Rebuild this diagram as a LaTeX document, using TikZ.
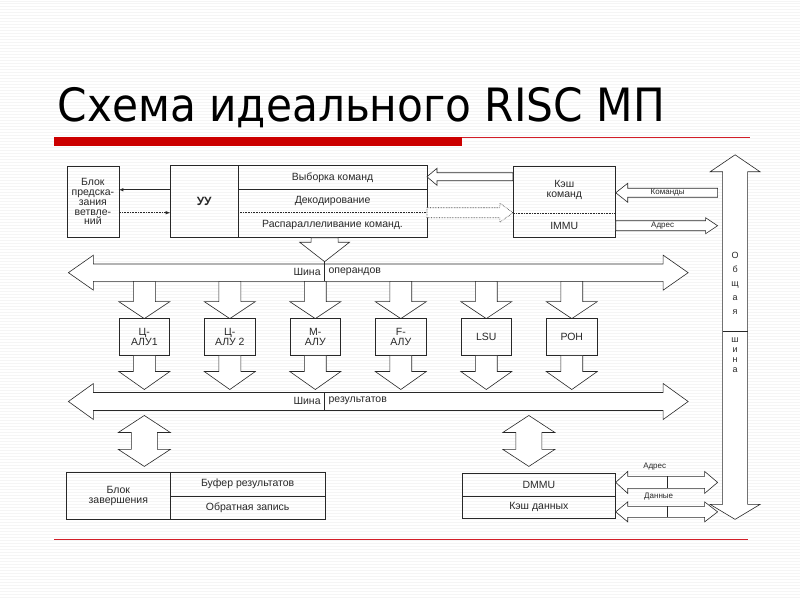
\documentclass[tikz,border=0pt]{standalone}
\usepackage{fontspec}
\setmainfont{Liberation Sans}
\newfontfamily\titlefont[FakeStretch=0.92]{DejaVu Sans}
\definecolor{slidered}{RGB}{204,0,0}
\definecolor{linered}{RGB}{210,30,40}
\definecolor{ink}{RGB}{40,40,40}
\newcommand\hollowh[7][]{\draw[fill=white,#1] (#2,#5-#6) -- (#3,#5-#6) -- (#3,#5-#7) -- (#4,#5) -- (#3,#5+#7) -- (#3,#5+#6) -- (#2,#5+#6) -- cycle;}
\newcommand\hollowv[7][]{\draw[fill=white,#1] (#5-#6,#2) -- (#5-#6,#3) -- (#5-#7,#3) -- (#5,#4) -- (#5+#7,#3) -- (#5+#6,#3) -- (#5+#6,#2) -- cycle;}
\newcommand\hollowhh[8][]{\draw[fill=white,#1] (#2,#6) -- (#3,#6-#8) -- (#3,#6-#7) -- (#4,#6-#7) -- (#4,#6-#8) -- (#5,#6) -- (#4,#6+#8) -- (#4,#6+#7) -- (#3,#6+#7) -- (#3,#6+#8) -- cycle;}
\newcommand\hollowvv[8][]{\draw[fill=white,#1] (#6,#2) -- (#6+#8,#3) -- (#6+#7,#3) -- (#6+#7,#4) -- (#6+#8,#4) -- (#6,#5) -- (#6-#8,#4) -- (#6-#7,#4) -- (#6-#7,#3) -- (#6-#8,#3) -- cycle;}

\begin{document}
\begin{tikzpicture}[x=1pt,y=-1pt,>=latex,line width=0.6pt,color=ink,
    lbl/.style={font=\fontsize{10.5}{9.7}\selectfont,align=center,inner sep=0pt,outer sep=0pt},
    tiny/.style={font=\fontsize{8}{8}\selectfont,inner sep=0pt}]
            \fill[white] (0,0) rectangle (800,600);
            \foreach \s in {1,4,...,598} \draw[black!4,line width=1pt] (0,\s) -- (800,\s);
            \useasboundingbox (0,0) rectangle (800,600);
            \node[anchor=base west,inner sep=0pt,text=black,font=\titlefont\fontsize{46}{50}\selectfont] (title) at (57,122) {Схема идеального RISC МП};
            \fill[slidered] (54,137) rectangle (462,146);
            \fill[linered] (462,136.8) rectangle (750,138.2);
            \fill[linered] (54,539.3) rectangle (748,540.7);

            \node[lbl,draw,minimum width=52pt,minimum height=71pt] (bpv) at (92.5,202) {Блок\\предска-\\зания\\ветвле-\\ний};
            \node[lbl,minimum width=68pt,minimum height=72pt,font=\bfseries\fontsize{12}{12}\selectfont] (uu) at (204,202) {УУ};
            \node[lbl,minimum width=189pt,minimum height=24pt] (fetch) at (332.5,178) {Выборка команд};
            \node[lbl,minimum width=189pt,minimum height=23pt] (decode) at (332.5,201.5) {Декодирование};
            \node[lbl,minimum width=189pt,minimum height=25pt] (issue) at (332.5,225.5) {Распараллеливание команд.};
            \draw (uu.north west) rectangle (issue.south east);
            \draw (uu.north east) -- (uu.south east);
            \draw (fetch.south west) -- (fetch.south east);
            \draw[densely dotted] (decode.south west) -- (decode.south east);
            \draw[->] (uu.west |- fetch.south) -- (bpv.east |- fetch.south);
            \draw[densely dotted,->] (bpv.east |- decode.south) -- (uu.west |- decode.south);

            \node[lbl,minimum width=103pt,minimum height=46.5pt] (icache) at (564.5,190.25) {Кэш\\команд};
            \node[lbl,minimum width=103pt,minimum height=24.5pt] (immu) at (564.5,225.75) {IMMU};
            \draw (icache.north west) rectangle (immu.south east);
            \draw[densely dotted] (icache.south west) -- (icache.south east);
            \hollowh{513}{437}{427}{177}{4}{8.5}
            \hollowh[densely dotted]{427}{500}{513}{213}{5}{9.5}
            \hollowh{718}{628}{616}{193}{4.5}{9.5}
            \node[tiny] (cmds) at (668,193) {Команды};
            \hollowh{616}{706}{718}{226}{5}{8}
            \node[tiny] (addr) at (663,225.5) {Адрес};

            \hollowvv{155}{172}{505}{520}{735.5}{12.5}{25}
            \draw (723,332) -- (748,332);
            \node[lbl,font=\fontsize{9}{14}\selectfont] (gbA) at (735.5,284) {О\\б\\щ\\а\\я};
            \node[lbl,font=\fontsize{9}{10}\selectfont] (gbB) at (735.5,356) {ш\\и\\н\\а};

            \hollowhh{68}{93}{663.5}{688.5}{273}{8.7}{17.5}
            \hollowv{238}{242.5}{262}{324.5}{13.5}{25}
            \draw (324.5,262) -- (324.5,281.7);
            \node[lbl,anchor=east] (opA) at (320.5,272) {Шина};
            \node[lbl,anchor=west] (opB) at (328.5,272) {операндов};

            \hollowhh{68}{93}{663.5}{688.5}{402}{9}{18}
            \draw (324.5,393) -- (324.5,411);
            \node[lbl,anchor=east] (resA) at (320.5,401) {Шина};
            \node[lbl,anchor=west] (resB) at (328.5,401) {результатов};

            \foreach \i/\ulabel in {0/{Ц-\\АЛУ1},1/{Ц-\\АЛУ 2},2/{М-\\АЛУ},3/{F-\\АЛУ},4/{LSU},5/{РОН}} {
                \pgfmathsetmacro\ux{144+85.6*\i}
                \hollowv{281.7}{302}{319}{\ux}{11}{25.5}
                \node[lbl,draw,minimum width=51pt,minimum height=37pt] (fu\i) at (\ux,337.5) {\ulabel};
                \hollowv{356}{372}{390}{\ux}{11}{25.5}
            }

            \hollowvv{416}{433}{450}{467}{144}{13}{26}
            \hollowvv{416}{433}{450}{467}{529}{13}{26}

            \node[lbl,minimum width=104pt,minimum height=47pt] (fin) at (118,496.5) {Блок\\завершения};
            \node[lbl,minimum width=155pt,minimum height=23.5pt] (rbuf) at (247.5,484.75) {Буфер результатов};
            \node[lbl,minimum width=155pt,minimum height=23.5pt] (wback) at (247.5,508.25) {Обратная запись};
            \draw (fin.north west) rectangle (wback.south east);
            \draw (fin.north east) -- (fin.south east);
            \draw (rbuf.south west) -- (rbuf.south east);

            \node[lbl,minimum width=154pt,minimum height=23pt] (dmmu) at (539,485.5) {DMMU};
            \node[lbl,minimum width=154pt,minimum height=22pt] (dcache) at (539,508) {Кэш данных};
            \draw (dmmu.north west) rectangle (dcache.south east);
            \draw (dmmu.south west) -- (dmmu.south east);
            \hollowhh{616}{628}{705}{718}{483}{6}{11}
            \draw (668,477) -- (668,489);
            \hollowhh{616}{628}{705}{718}{512.5}{5.5}{10}
            \draw (668,507) -- (668,518);
            \node[tiny] (adr2) at (655,467) {Адрес};
            \node[tiny] (data) at (659,497.5) {Данные};
        \end{tikzpicture}
\end{document}
